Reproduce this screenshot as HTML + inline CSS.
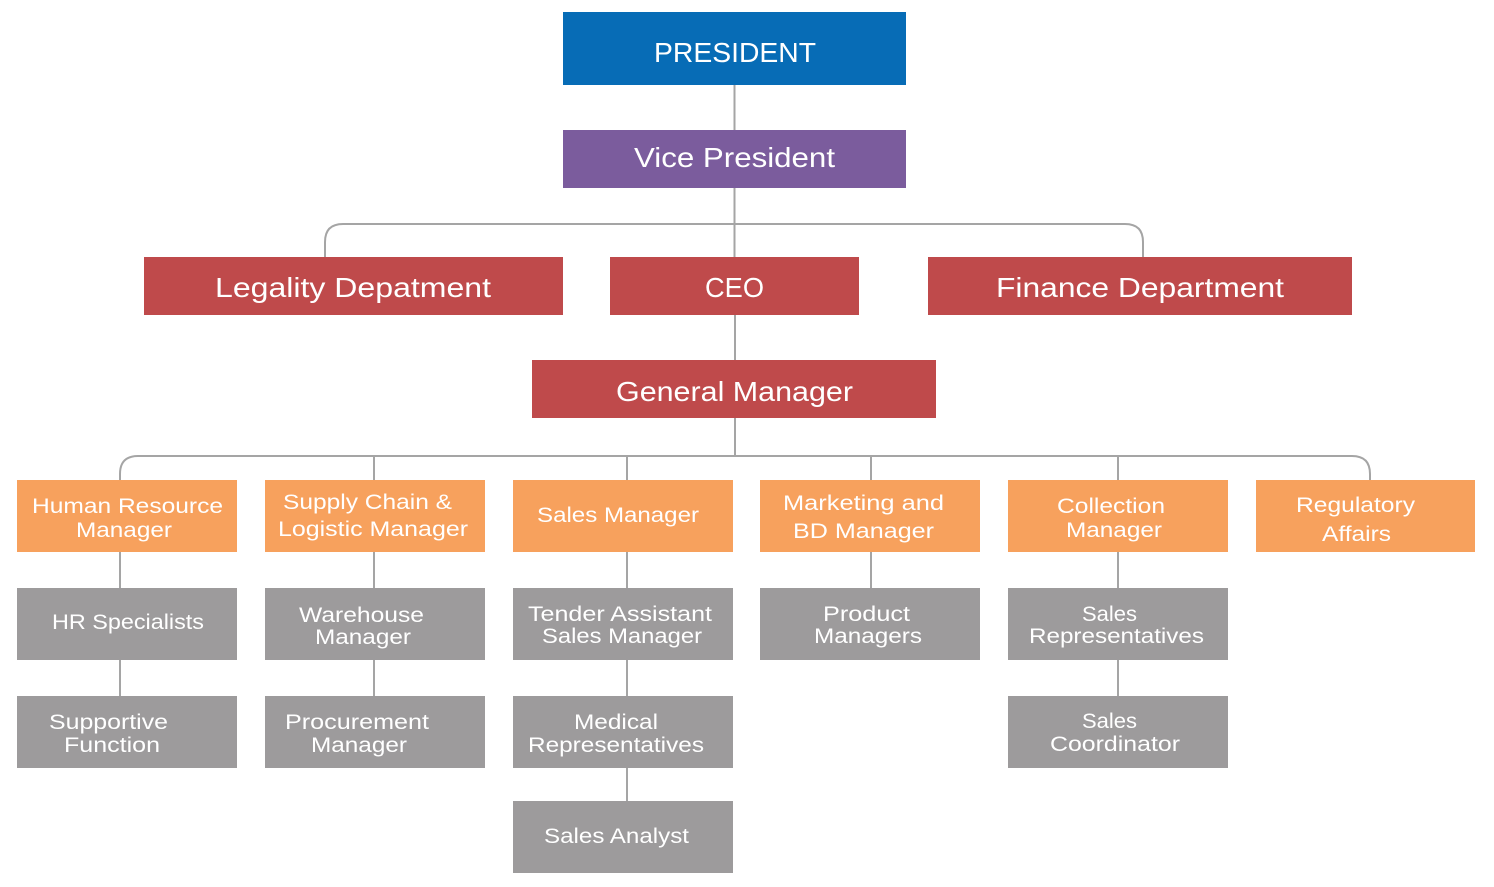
<!DOCTYPE html>
<html>
<head>
<meta charset="utf-8">
<style>
  html,body{margin:0;padding:0;background:#fff;}
  svg{display:block;}
  text{font-family:"Liberation Sans", sans-serif; fill:#fff;}
  .t{font-size:28px;}
  .s{font-size:21px;}
</style>
</head>
<body>
<svg width="1494" height="887" viewBox="0 0 1494 887" xmlns="http://www.w3.org/2000/svg">
  <!-- connectors -->
  <g stroke="#a5a5a5" stroke-width="2" fill="none">
    <line x1="734.5" y1="85" x2="734.5" y2="130"/>
    <line x1="734.5" y1="188" x2="734.5" y2="257"/>
    <path d="M325,257 V242 Q325,224 343,224 H1125 Q1143,224 1143,242 V257"/>
    <line x1="735" y1="315" x2="735" y2="360"/>
    <line x1="735" y1="418" x2="735" y2="456"/>
    <path d="M120,480 V474 Q120,456 138,456 H1352 Q1370,456 1370,474 V480"/>
    <line x1="374" y1="456" x2="374" y2="480"/>
    <line x1="627" y1="456" x2="627" y2="480"/>
    <line x1="871" y1="456" x2="871" y2="480"/>
    <line x1="1118" y1="456" x2="1118" y2="480"/>
    <!-- vertical chains -->
    <line x1="120" y1="552" x2="120" y2="696"/>
    <line x1="374" y1="552" x2="374" y2="696"/>
    <line x1="627" y1="552" x2="627" y2="801"/>
    <line x1="871" y1="552" x2="871" y2="588"/>
    <line x1="1118" y1="552" x2="1118" y2="696"/>
  </g>

  <!-- top boxes -->
  <rect x="563" y="12" width="343" height="73" fill="#076cb6"/>
  <rect x="563" y="130" width="343" height="58" fill="#7b5c9d"/>
  <rect x="144" y="257" width="419" height="58" fill="#bf4a4b"/>
  <rect x="610" y="257" width="249" height="58" fill="#bf4a4b"/>
  <rect x="928" y="257" width="424" height="58" fill="#bf4a4b"/>
  <rect x="532" y="360" width="404" height="58" fill="#bf4a4b"/>

  <!-- orange row -->
  <g fill="#f7a15d">
    <rect x="17" y="480" width="220" height="72"/>
    <rect x="265" y="480" width="220" height="72"/>
    <rect x="513" y="480" width="220" height="72"/>
    <rect x="760" y="480" width="220" height="72"/>
    <rect x="1008" y="480" width="220" height="72"/>
    <rect x="1256" y="480" width="219" height="72"/>
  </g>

  <!-- gray boxes -->
  <g fill="#9d9b9c">
    <rect x="17" y="588" width="220" height="72"/>
    <rect x="265" y="588" width="220" height="72"/>
    <rect x="513" y="588" width="220" height="72"/>
    <rect x="760" y="588" width="220" height="72"/>
    <rect x="1008" y="588" width="220" height="72"/>
    <rect x="17" y="696" width="220" height="72"/>
    <rect x="265" y="696" width="220" height="72"/>
    <rect x="513" y="696" width="220" height="72"/>
    <rect x="1008" y="696" width="220" height="72"/>
    <rect x="513" y="801" width="220" height="72"/>
  </g>

  <!-- top text -->
  <text class="t" x="654" y="62" textLength="162" lengthAdjust="spacingAndGlyphs">PRESIDENT</text>
  <text class="t" x="634" y="167" textLength="201" lengthAdjust="spacingAndGlyphs">Vice President</text>
  <text class="t" x="215" y="297" textLength="276" lengthAdjust="spacingAndGlyphs">Legality Depatment</text>
  <text class="t" x="705" y="297" textLength="59" lengthAdjust="spacingAndGlyphs">CEO</text>
  <text class="t" x="996" y="297" textLength="288" lengthAdjust="spacingAndGlyphs">Finance Department</text>
  <text class="t" x="616" y="401" textLength="237" lengthAdjust="spacingAndGlyphs">General Manager</text>

  <!-- orange text -->
  <text class="s" x="32" y="513" textLength="191" lengthAdjust="spacingAndGlyphs">Human Resource</text>
  <text class="s" x="76" y="537" textLength="96" lengthAdjust="spacingAndGlyphs">Manager</text>
  <text class="s" x="283" y="509" textLength="169" lengthAdjust="spacingAndGlyphs">Supply Chain &amp;</text>
  <text class="s" x="278" y="536" textLength="190" lengthAdjust="spacingAndGlyphs">Logistic Manager</text>
  <text class="s" x="537" y="522" textLength="162" lengthAdjust="spacingAndGlyphs">Sales Manager</text>
  <text class="s" x="783" y="510" textLength="161" lengthAdjust="spacingAndGlyphs">Marketing and</text>
  <text class="s" x="793" y="538" textLength="141" lengthAdjust="spacingAndGlyphs">BD Manager</text>
  <text class="s" x="1057" y="513" textLength="108" lengthAdjust="spacingAndGlyphs">Collection</text>
  <text class="s" x="1066" y="537" textLength="96" lengthAdjust="spacingAndGlyphs">Manager</text>
  <text class="s" x="1296" y="512" textLength="119" lengthAdjust="spacingAndGlyphs">Regulatory</text>
  <text class="s" x="1322" y="541" textLength="69" lengthAdjust="spacingAndGlyphs">Affairs</text>

  <!-- gray text row 2 -->
  <text class="s" x="52" y="629" textLength="152" lengthAdjust="spacingAndGlyphs">HR Specialists</text>
  <text class="s" x="299" y="622" textLength="125" lengthAdjust="spacingAndGlyphs">Warehouse</text>
  <text class="s" x="315" y="644" textLength="96" lengthAdjust="spacingAndGlyphs">Manager</text>
  <text class="s" x="528" y="621" textLength="184" lengthAdjust="spacingAndGlyphs">Tender Assistant</text>
  <text class="s" x="542" y="643" textLength="160" lengthAdjust="spacingAndGlyphs">Sales Manager</text>
  <text class="s" x="823" y="621" textLength="87" lengthAdjust="spacingAndGlyphs">Product</text>
  <text class="s" x="814" y="643" textLength="108" lengthAdjust="spacingAndGlyphs">Managers</text>
  <text class="s" x="1082" y="621" textLength="55" lengthAdjust="spacingAndGlyphs">Sales</text>
  <text class="s" x="1029" y="643" textLength="175" lengthAdjust="spacingAndGlyphs">Representatives</text>

  <!-- gray text row 3 -->
  <text class="s" x="49" y="729" textLength="119" lengthAdjust="spacingAndGlyphs">Supportive</text>
  <text class="s" x="64" y="752" textLength="96" lengthAdjust="spacingAndGlyphs">Function</text>
  <text class="s" x="285" y="729" textLength="144" lengthAdjust="spacingAndGlyphs">Procurement</text>
  <text class="s" x="311" y="752" textLength="96" lengthAdjust="spacingAndGlyphs">Manager</text>
  <text class="s" x="574" y="729" textLength="84" lengthAdjust="spacingAndGlyphs">Medical</text>
  <text class="s" x="528" y="752" textLength="176" lengthAdjust="spacingAndGlyphs">Representatives</text>
  <text class="s" x="1082" y="728" textLength="55" lengthAdjust="spacingAndGlyphs">Sales</text>
  <text class="s" x="1050" y="751" textLength="130" lengthAdjust="spacingAndGlyphs">Coordinator</text>

  <!-- row 4 -->
  <text class="s" x="544" y="843" textLength="145" lengthAdjust="spacingAndGlyphs">Sales Analyst</text>
</svg>
</body>
</html>
